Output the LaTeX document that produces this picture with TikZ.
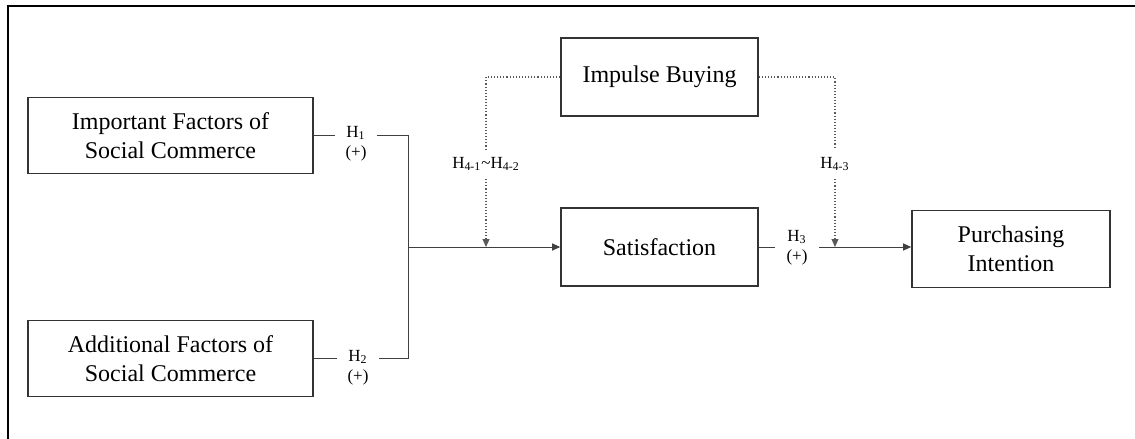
\documentclass[tikz,border=0pt]{standalone}
\usepackage{fontspec}
\setmainfont{Liberation Serif}
\usetikzlibrary{arrows.meta}
\tikzset{
    factor/.style={draw=black!80,line width=0.8pt,minimum width=142.5pt,minimum height=38pt,align=center,font=\fontsize{12}{14.5}\selectfont},
    hyp/.style={inner xsep=5pt,inner ysep=1pt,align=center,font=\fontsize{8.5}{10}\selectfont},
    link/.style={draw=black!75,line width=0.5pt},
    moder/.style={draw=black!65,densely dotted,line width=0.55pt}
}
\begin{document}
\begin{tikzpicture}[>={Triangle[length=4pt,width=3.5pt]},x=0.5pt,y=-0.5pt]
        \useasboundingbox (0,0) rectangle (1135,439);
        \draw[line width=1pt](8,439)--(8,6)--(1135,6);
        \node[factor](imp) at (170.5,135.5){Important Factors of\\Social Commerce};
        \node[factor](add) at (170.5,358.5){Additional Factors of\\Social Commerce};
        \node[factor,minimum width=98.5pt,minimum height=39pt](ib) at (659.5,77){Impulse Buying};
        \node[factor,minimum width=98.5pt,minimum height=39pt](sat) at (659.5,247){Satisfaction};
        \node[factor,minimum width=99pt,minimum height=38.5pt](pi) at (1011,249){Purchasing\\Intention};
        \node[hyp,anchor=north](h1) at (356,124){H\textsubscript{1}\\(+)};
        \node[hyp,anchor=north](h2) at (358,348){H\textsubscript{2}\\(+)};
        \node[hyp,anchor=north,inner xsep=5.5pt](h3) at (797,228){H\textsubscript{3}\\(+)};
        \node[hyp,inner ysep=4pt](h41) at (486,164){H\textsubscript{4-1}\textasciitilde H\textsubscript{4-2}};
        \node[hyp,inner ysep=4pt](h43) at (835,164){H\textsubscript{4-3}};
        \coordinate (jn) at (408,247);
        \draw[link](imp.east)--(imp.east-|h1.west)(imp.east-|h1.east)-|(jn);
        \draw[link](add.east)--(add.east-|h2.west)(add.east-|h2.east)-|(jn);
        \draw[link,->](jn)--(sat.west);
        \draw[link](sat.east)--(sat.east-|h3.west);
        \draw[link,->](sat.east-|h3.east)--(pi.west|-sat.east);
        \draw[moder](ib.west)-|(h41.north);
        \draw[moder,->](h41.south)--(h41.south|-sat.west);
        \draw[moder](ib.east)-|(h43.north);
        \draw[moder,->](h43.south)--(h43.south|-sat.east);
    \end{tikzpicture}
\end{document}
